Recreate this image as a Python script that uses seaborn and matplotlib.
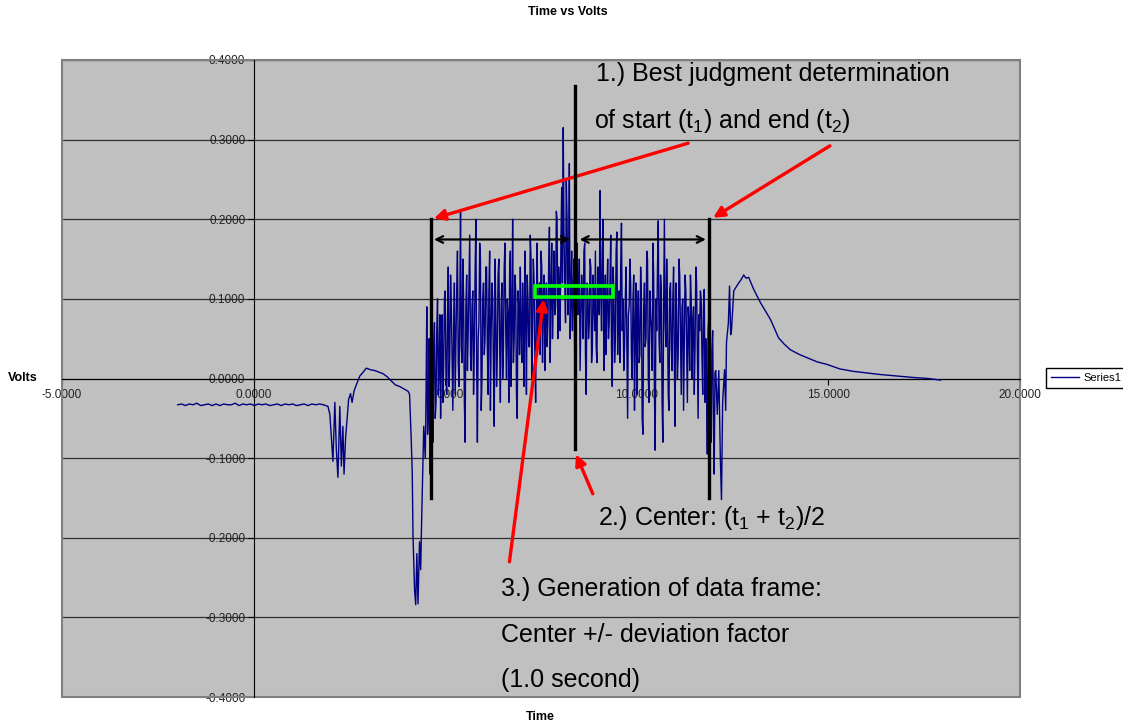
import numpy as np
import pandas as pd
import matplotlib
matplotlib.use("Agg")
import matplotlib.pyplot as plt
import seaborn as sns
from matplotlib.patches import Rectangle
from matplotlib.ticker import FormatStrFormatter, MultipleLocator

# flat part before the event, sampled every 0.1 s from -1.98 s
base_t0 = -1.98
base_dt = 0.1
v_base = [-0.033, -0.032, -0.034, -0.032, -0.033, -0.031, -0.034, -0.033, -0.032, -0.034,
          -0.032, -0.034, -0.032, -0.033, -0.033, -0.031, -0.034, -0.032, -0.033, -0.032,
          -0.034, -0.032, -0.033, -0.032, -0.034, -0.033, -0.032, -0.034, -0.032, -0.033,
          -0.032, -0.034, -0.033, -0.032, -0.034, -0.032, -0.033, -0.032, -0.033]
t_base = base_t0 + base_dt * np.arange(len(v_base))

# first dip, bump and the big drop
t_dip = [1.94, 1.99, 2.03, 2.07, 2.12, 2.16, 2.20, 2.25, 2.29, 2.33,
         2.36, 2.40, 2.45, 2.48, 2.53, 2.57, 2.62, 2.68, 2.77, 2.86,
         2.94, 3.05, 3.16, 3.27, 3.38, 3.49, 3.59, 3.70, 3.81, 3.92,
         4.03, 4.07, 4.11, 4.14, 4.16, 4.20, 4.23, 4.26, 4.29, 4.33,
         4.36, 4.38, 4.40, 4.42, 4.44]
v_dip = [-0.035, -0.045, -0.075, -0.104, -0.03, -0.09, -0.124, -0.035, -0.11, -0.06,
         -0.12, -0.075, -0.045, -0.026, -0.019, -0.03, -0.016, -0.008, 0.003, 0.008,
         0.013, 0.011, 0.010, 0.008, 0.006, 0.002, -0.003, -0.008, -0.010, -0.013,
         -0.016, -0.020, -0.072, -0.118, -0.198, -0.265, -0.284, -0.22, -0.283, -0.205,
         -0.24, -0.19, -0.148, -0.106, -0.06]

# noisy section, sampled every 0.02 s from 4.48 s
noise_t0 = 4.48
noise_dt = 0.02
v_noise = [
    -0.10, -0.02, 0.09, -0.07, -0.04, 0.05, -0.12, -0.06, 0.02, -0.01,
    -0.08, 0.04, 0.07, -0.05, -0.03, 0.06, 0.10, -0.02, 0.01, 0.08,
    -0.05, 0.03, 0.08, -0.03, 0.02, 0.10, 0.11, 0.00, -0.02, 0.07,
    0.14, -0.01, 0.03, 0.13, 0.09, 0.02, -0.04, 0.06, 0.12, -0.02,
    0.05, 0.11, 0.16, 0.02, -0.01, 0.08, 0.21, 0.04, 0.02, 0.15,
    0.10, -0.03, -0.08, 0.09, 0.13, 0.01, 0.06, 0.12, 0.18, 0.03,
    0.01, 0.09, 0.11, -0.02, 0.04, 0.13, 0.20, 0.02, -0.08, 0.05,
    0.07, 0.17, 0.15, -0.04, 0.00, 0.10, 0.12, 0.03, 0.05, 0.14,
    0.14, 0.04, -0.02, 0.11, 0.16, -0.04, 0.06, 0.12, 0.10, 0.01,
    -0.06, 0.15, 0.09, -0.01, 0.03, 0.13, 0.15, 0.05, -0.03, 0.09,
    0.12, 0.00, 0.04, 0.14, 0.17, 0.06, 0.00, 0.10, 0.08, -0.03,
    0.13, 0.16, -0.01, 0.07, 0.20, 0.02, 0.05, 0.13, 0.11, -0.02,
    -0.05, 0.11, 0.09, 0.03, 0.14, 0.06, 0.02, 0.12, 0.07, -0.01,
    0.16, 0.09, -0.02, 0.13, 0.10, 0.04, 0.04, 0.18, 0.15, 0.00,
    0.06, 0.15, 0.12, 0.03, -0.03, 0.09, 0.17, 0.05, 0.08, 0.12,
    0.03, 0.16, 0.14, 0.02, 0.10, 0.13, 0.01, 0.08, 0.12, 0.04,
    0.07, 0.14, 0.19, 0.02, 0.11, 0.17, 0.05, 0.10, 0.16, 0.08,
    0.09, 0.21, 0.20, 0.05, 0.14, 0.11, 0.06, 0.17, 0.24, 0.12,
    0.315, 0.18, 0.12, 0.07, 0.25, 0.20, 0.08, 0.14, 0.27, 0.05,
    0.10, 0.16, 0.06, 0.11, 0.15, 0.02, 0.03, 0.12, 0.17, 0.08,
    0.09, 0.15, 0.01, 0.07, 0.13, 0.10, 0.05, 0.16, 0.17, 0.03,
    -0.02, 0.12, 0.11, 0.05, 0.07, 0.15, 0.14, 0.02, 0.04, 0.13,
    0.10, 0.06, 0.16, 0.04, 0.02, 0.14, 0.12, 0.08, 0.236, 0.11,
    0.06, 0.16, 0.20, 0.01, 0.09, 0.13, 0.03, 0.10, 0.15, 0.05,
    0.07, 0.12, 0.18, 0.04, -0.01, 0.14, 0.11, 0.02, 0.05, 0.16,
    0.184, 0.03, 0.08, 0.11, 0.02, 0.14, 0.195, 0.06, 0.10, 0.01,
    0.04, 0.10, 0.14, 0.05, -0.05, 0.08, 0.09, 0.15, 0.12, 0.03,
    0.00, 0.10, 0.13, -0.04, 0.06, 0.12, -0.02, 0.07, 0.11, 0.02,
    0.03, 0.14, 0.10, -0.05, -0.07, 0.09, 0.12, 0.04, 0.05, 0.16,
    0.15, 0.00, -0.03, 0.11, 0.08, 0.06, 0.01, 0.17, 0.13, -0.02,
    -0.09, 0.10, 0.06, 0.14, 0.198, 0.05, 0.02, 0.13, 0.11, -0.03,
    -0.08, 0.09, 0.20, 0.07, 0.04, 0.15, 0.09, -0.02, -0.04, 0.11,
    0.12, 0.04, 0.01, 0.10, 0.14, 0.02, -0.06, 0.12, 0.08, 0.00,
    0.03, 0.15, 0.13, 0.06, -0.02, 0.09, 0.10, -0.04, 0.05, 0.13,
    0.11, 0.04, -0.03, 0.09, 0.07, 0.01, 0.13, 0.10, 0.00, 0.07,
    0.09, -0.02, 0.04, 0.14, 0.12, 0.03, -0.05, 0.08, 0.06, 0.11,
    0.10, 0.03, -0.02, 0.09, 0.112, -0.03, 0.05, -0.01, -0.095, 0.06,
    0.08, 0.10, -0.02, -0.08, 0.036, 0.06, -0.06, -0.12, 0.007, 0.01,
]
t_noise = noise_t0 + noise_dt * np.arange(len(v_noise))

# end of the noise, recovery peak and decay
t_tail = [12.10, 12.14, 12.18, 12.21, 12.24, 12.29, 12.32, 12.34, 12.39, 12.42,
          12.45, 12.47, 12.53, 12.58, 12.66, 12.72, 12.79, 12.85, 12.92, 13.05,
          13.23, 13.49, 13.70, 13.85, 14.01, 14.25, 14.45, 14.70, 14.97, 15.30,
          15.65, 16.00, 16.35, 16.80, 17.21, 17.60, 17.92]
v_tail = [-0.045, 0.01, -0.10, -0.152, -0.03, 0.011, -0.04, 0.045, 0.07, 0.116,
          0.055, 0.06, 0.11, 0.114, 0.12, 0.124, 0.13, 0.126, 0.127, 0.112,
          0.095, 0.074, 0.051, 0.043, 0.036, 0.030, 0.026, 0.021, 0.0176, 0.012,
          0.009, 0.007, 0.005, 0.003, 0.0013, 0.000, -0.002]

# annotation positions (seconds / volts)
t1, t2, t_center = 4.635, 11.875, 8.385

df = pd.DataFrame({
    "Time": np.concatenate([t_base, t_dip, t_noise, t_tail]),
    "Volts": np.concatenate([v_base, v_dip, v_noise, v_tail]),
})

plt.rcParams["font.family"] = ["Liberation Sans", "DejaVu Sans"]
plt.rcParams["mathtext.fontset"] = "custom"
plt.rcParams["mathtext.rm"] = "Liberation Sans"

fig = plt.figure(figsize=(11.23, 7.25), dpi=100)
ax = fig.add_axes([62 / 1123, 28 / 725, 958 / 1123, 637 / 725])
ax.set_facecolor("#C0C0C0")

sns.lineplot(data=df, x="Time", y="Volts", sort=False, estimator=None,
             color="#000080", lw=1.0, label="Series1", ax=ax, zorder=3)

ax.set_xlim(-5, 20)
ax.set_ylim(-0.4, 0.4)
ax.xaxis.set_major_locator(MultipleLocator(5))
ax.yaxis.set_major_locator(MultipleLocator(0.1))
ax.xaxis.set_major_formatter(FormatStrFormatter("%.4f"))
ax.yaxis.set_major_formatter(FormatStrFormatter("%.4f"))
ax.set_axisbelow(True)
ax.grid(axis="y", color="#303030", lw=0.9)
ax.grid(axis="x", visible=False)

for s in ["top", "right"]:
    ax.spines[s].set_visible(False)
ax.spines["left"].set_position(("data", 0))
ax.spines["bottom"].set_position(("data", 0))
ax.spines["left"].set_color("black")
ax.spines["bottom"].set_color("black")
ax.tick_params(axis="both", direction="out", length=4, width=0.8, labelsize=8.5,
               colors="black", labelcolor="#222222")
ax.tick_params(axis="y", pad=2)
ax.add_patch(Rectangle((0, 0), 1, 1, transform=ax.transAxes, fill=False,
                       edgecolor="#808080", lw=1.5, zorder=0.6, clip_on=False))
ax.set_xlabel("")
ax.set_ylabel("")

fig.text(568 / 1123, 1 - 12 / 725, "Time vs Volts", ha="center", va="center",
         fontsize=9, fontweight="bold")
fig.text(540 / 1123, 1 - 717 / 725, "Time", ha="center", va="center",
         fontsize=9, fontweight="bold")
fig.text(8 / 1123, 1 - 378 / 725, "Volts", ha="left", va="center",
         fontsize=9, fontweight="bold")

ax.legend(loc="center left", bbox_to_anchor=(1046 / 1123, 1 - 378 / 725),
          bbox_transform=fig.transFigure, frameon=True, fancybox=False,
          edgecolor="black", fontsize=8, handlelength=2.5, handletextpad=0.4,
          borderpad=0.45, borderaxespad=0, framealpha=1)

# black markers for start, end and center
ax.plot([t1, t1], [-0.15, 0.2], color="black", lw=2.4, zorder=5)
ax.plot([t2, t2], [-0.15, 0.2], color="black", lw=2.4, zorder=5)
ax.plot([t_center, t_center], [-0.089, 0.367], color="black", lw=2.4, zorder=5)
ax.annotate("", xy=(t1, 0.1746), xytext=(t_center - 0.05, 0.1746),
            arrowprops=dict(arrowstyle="<->", color="black", lw=1.6, mutation_scale=12),
            zorder=5)
ax.annotate("", xy=(t_center + 0.05, 0.1746), xytext=(t2, 0.1746),
            arrowprops=dict(arrowstyle="<->", color="black", lw=1.6, mutation_scale=12),
            zorder=5)

# green data frame box
ax.add_patch(Rectangle((7.34, 0.1018), 2.035, 0.0138, fill=False,
                       edgecolor="#00FF00", lw=2.6, zorder=6))

# red arrows
red = dict(arrowstyle="-|>", color="red", lw=2.4, mutation_scale=16)
ax.annotate("", xy=(t1, 0.2), xytext=(11.41, 0.2965), arrowprops=red, zorder=4)
ax.annotate("", xy=(11.93, 0.2), xytext=(15.10, 0.294), arrowprops=red, zorder=6)
ax.annotate("", xy=(t_center, -0.092), xytext=(8.88, -0.148), arrowprops=red, zorder=6)
ax.annotate("", xy=(7.58, 0.103), xytext=(6.667, -0.2337), arrowprops=red, zorder=6)

fs = 18
ax.text(8.93, 0.383, "1.) Best judgment determination", fontsize=fs, va="center", zorder=7)
ax.text(8.88, 0.323, r"of start (t$_\mathregular{1}$) and end (t$_\mathregular{2}$)",
        fontsize=fs, va="center", zorder=7)
ax.text(8.98, -0.1746, r"2.) Center: (t$_\mathregular{1}$ + t$_\mathregular{2}$)/2",
        fontsize=fs, va="center", zorder=7)
ax.text(6.46, -0.264, "3.) Generation of data frame:", fontsize=fs, va="center", zorder=7)
ax.text(6.46, -0.3216, "Center +/- deviation factor", fontsize=fs, va="center", zorder=7)
ax.text(6.46, -0.379, "(1.0 second)", fontsize=fs, va="center", zorder=7)

fig.savefig("out.png", dpi=100)
